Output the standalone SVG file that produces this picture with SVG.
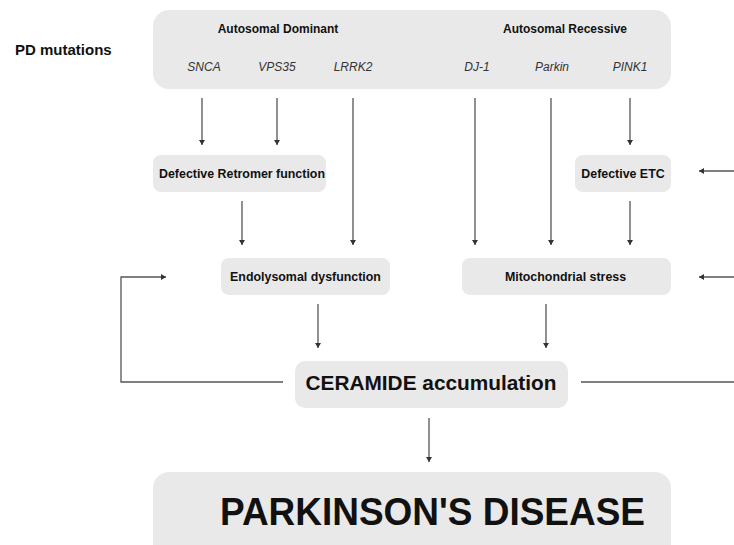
<svg xmlns="http://www.w3.org/2000/svg" width="734" height="545" viewBox="0 0 734 545">
  <style>
    .box { fill: #e9e9e9; }
    .t { font-family: "Liberation Sans", Arial, sans-serif; fill: #111; text-anchor: middle; }
    .b { font-weight: bold; }
    .i { font-style: italic; fill: #333; font-size: 12px; }
    .c { stroke: #555; stroke-width: 1.3; fill: none; }
    .ca { stroke: #555; stroke-width: 1.3; fill: none; marker-end: url(#ah); }
  </style>
  <defs>
    <marker id="ah" markerUnits="userSpaceOnUse" markerWidth="8" markerHeight="8" refX="5" refY="3" orient="auto">
      <path d="M0,0 L5,3 L0,6 Z" fill="#333"/>
    </marker>
  </defs>
  <rect width="734" height="545" fill="#fff"/>

  <text class="t b" x="15" y="55" font-size="15" style="text-anchor:start">PD mutations</text>

  <g id="mutations">
    <rect class="box" x="153" y="10" width="518" height="79" rx="16"/>
    <text class="t b" x="278" y="33" font-size="12">Autosomal Dominant</text>
    <text class="t b" x="565" y="33" font-size="12">Autosomal Recessive</text>
    <text class="t i" x="204" y="71">SNCA</text>
    <text class="t i" x="277" y="71">VPS35</text>
    <text class="t i" x="353" y="71">LRRK2</text>
    <text class="t i" x="477" y="71">DJ-1</text>
    <text class="t i" x="552" y="71">Parkin</text>
    <text class="t i" x="630" y="71">PINK1</text>
  </g>

  <g id="retromer">
    <rect class="box" x="153" y="155" width="173" height="37" rx="8"/>
    <text class="t b" x="242" y="178" font-size="12.4">Defective Retromer function</text>
  </g>

  <g id="etc">
    <rect class="box" x="575" y="155" width="96" height="37" rx="8"/>
    <text class="t b" x="623" y="178" font-size="12.4">Defective ETC</text>
  </g>

  <g id="endolysomal">
    <rect class="box" x="221" y="258" width="169" height="37" rx="8"/>
    <text class="t b" x="305.5" y="281" font-size="12.4">Endolysomal dysfunction</text>
  </g>

  <g id="mito">
    <rect class="box" x="462" y="258" width="209" height="37" rx="8"/>
    <text class="t b" x="565.5" y="281" font-size="12.4">Mitochondrial stress</text>
  </g>

  <g id="ceramide">
    <rect class="box" x="295" y="361" width="273" height="47" rx="10"/>
    <text class="t b" x="431" y="390" font-size="21" textLength="251" lengthAdjust="spacingAndGlyphs">CERAMIDE accumulation</text>
  </g>

  <g id="pd">
    <rect class="box" x="153" y="472" width="518" height="90" rx="16"/>
    <text class="t b" x="432.5" y="525" font-size="38" textLength="425" lengthAdjust="spacingAndGlyphs">PARKINSON'S DISEASE</text>
  </g>

  <g id="connectors">
    <line class="ca" x1="202" y1="98" x2="202" y2="145"/>
    <line class="ca" x1="277" y1="98" x2="277" y2="145"/>
    <line class="ca" x1="353" y1="98" x2="353" y2="245"/>
    <line class="ca" x1="475" y1="98" x2="475" y2="245"/>
    <line class="ca" x1="551" y1="98" x2="551" y2="245"/>
    <line class="ca" x1="630" y1="98" x2="630" y2="145"/>
    <line class="ca" x1="242" y1="201" x2="242" y2="245"/>
    <line class="ca" x1="630" y1="201" x2="630" y2="245"/>
    <line class="ca" x1="734" y1="171" x2="699" y2="171"/>
    <line class="ca" x1="734" y1="277" x2="699" y2="277"/>
    <line class="ca" x1="318" y1="304" x2="318" y2="348"/>
    <line class="ca" x1="546" y1="304" x2="546" y2="348"/>
    <path class="ca" d="M283,382 H121 V277 H166"/>
    <line class="c" x1="581" y1="382" x2="734" y2="382"/>
    <line class="ca" x1="429" y1="418" x2="429" y2="462"/>
  </g>
</svg>
